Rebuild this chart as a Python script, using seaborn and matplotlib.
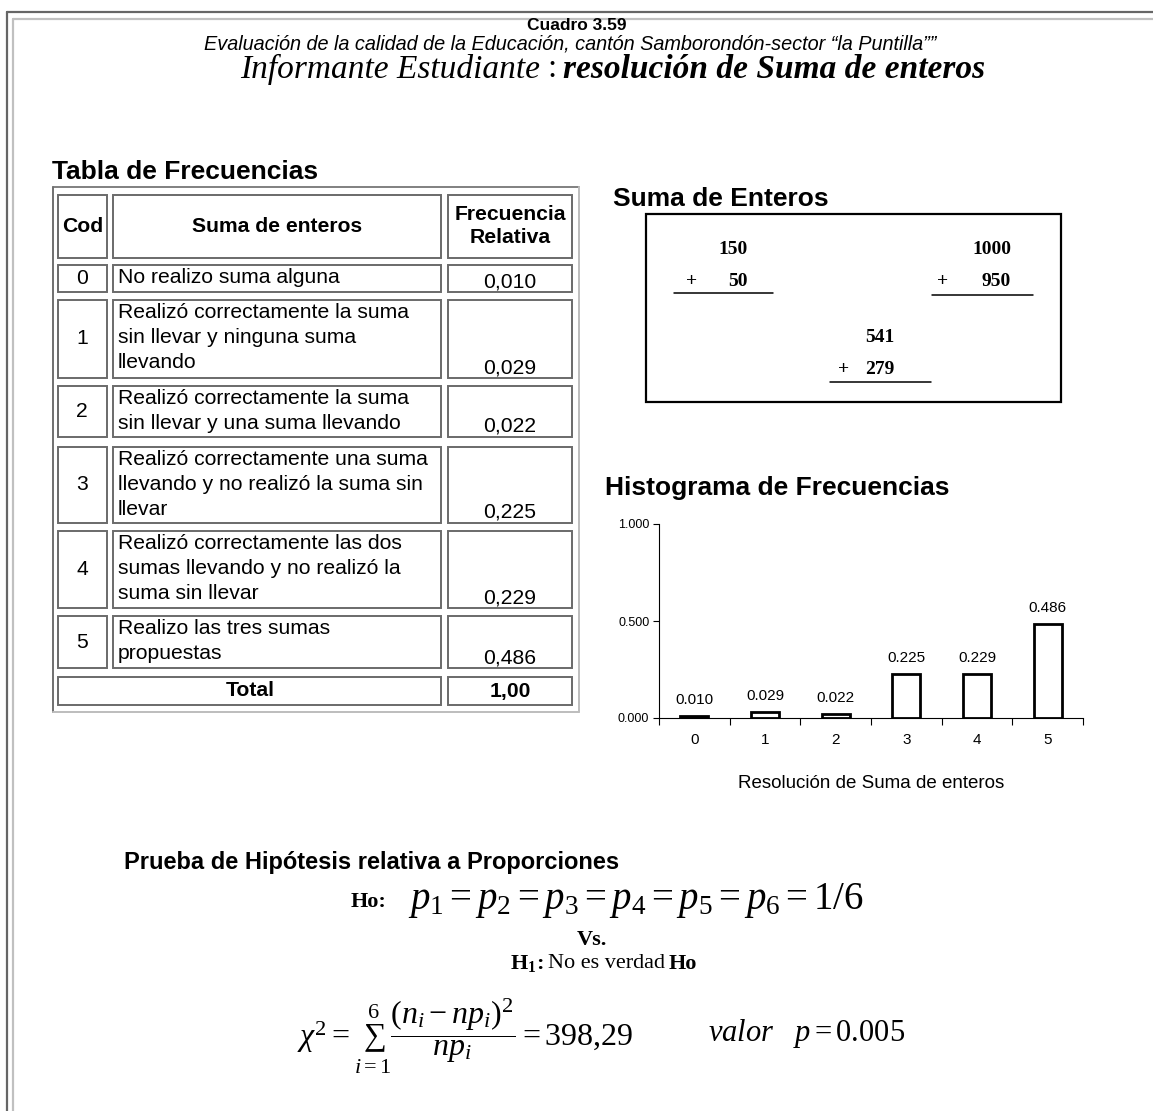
import numpy as np
import matplotlib
matplotlib.use('Agg')

import matplotlib.pyplot as plt
import seaborn as sns
from matplotlib.patches import Rectangle
from matplotlib.ticker import FormatStrFormatter, FixedLocator

W, H = 1153, 1111

# ================= DATA =================

codigos = [0, 1, 2, 3, 4, 5]

descripciones = [
    'No realizo suma alguna',
    'Realizó correctamente la suma\nsin llevar y ninguna suma\nllevando',
    'Realizó correctamente la suma\nsin llevar y una suma llevando',
    'Realizó correctamente una suma\nllevando y no realizó la suma sin\nllevar',
    'Realizó correctamente las dos\nsumas llevando y no realizó la\nsuma sin llevar',
    'Realizo las tres sumas\npropuestas',
]

frecuencias = [0.010, 0.029, 0.022, 0.225, 0.229, 0.486]

total = 1.00

encabezados = ['Cod', 'Suma de enteros', 'Frecuencia\nRelativa']

sumandos_a = ['150', '1000', '541']
sumandos_b = ['50', '950', '279']

chi2 = '398,29'
valor_p = '0.005'

# ================= STYLE =================

sns.set_theme(style='white')
plt.rcParams['font.family'] = ['Liberation Sans', 'DejaVu Sans']
plt.rcParams['text.color'] = 'black'
plt.rcParams['axes.labelcolor'] = 'black'
plt.rcParams['xtick.color'] = 'black'
plt.rcParams['ytick.color'] = 'black'
plt.rcParams['mathtext.fontset'] = 'custom'
plt.rcParams['mathtext.rm'] = 'Liberation Serif'
plt.rcParams['mathtext.it'] = 'Liberation Serif:italic'
plt.rcParams['mathtext.bf'] = 'Liberation Serif:bold'

SERIF = ['Liberation Serif', 'DejaVu Serif']

fig = plt.figure(figsize=(W / 100, H / 100), dpi=100)

# page in pixel coords
page = fig.add_axes([0, 0, 1, 1])
page.set_xlim(0, W)
page.set_ylim(H, 0)
page.axis('off')


def fin_x(t):
    # right edge of a text, in page coords
    fig.canvas.draw()
    bb = t.get_window_extent()
    return page.transData.inverted().transform((bb.x1, bb.y0))[0]


# page border
page.plot([7, W], [12, 12], color='#666666', lw=1.6)
page.plot([7, 7], [12, H], color='#666666', lw=1.6)
page.plot([13, W], [19, 19], color='#c0c0c0', lw=1.6)
page.plot([13, 13], [19, H], color='#c0c0c0', lw=1.6)

# ================= TITLES =================

page.text(577, 26, 'Cuadro 3.59', ha='center', va='center',
          fontsize=12.5, fontweight='bold')
page.text(570, 44, 'Evaluación de la calidad de la Educación, cantón '
          'Samborondón-sector “la Puntilla””',
          ha='center', va='center', fontsize=14.3, fontstyle='italic')
t = page.text(240, 69, 'Informante Estudiante', ha='left', va='center',
              fontsize=24, fontstyle='italic', family=SERIF)
t = page.text(fin_x(t) + 7, 69, ':', ha='left', va='center',
              fontsize=24, family=SERIF)
page.text(fin_x(t) + 7, 69, 'resolución de Suma de enteros', ha='left',
          va='center', fontsize=24, fontstyle='italic', fontweight='bold',
          family=SERIF)

# ================= TABLE =================

page.text(52, 172, 'Tabla de Frecuencias', ha='left', va='center',
          fontsize=19, fontweight='bold')


def cell(x0, y0, x1, y1):
    page.add_patch(Rectangle((x0, y0), x1 - x0, y1 - y0, fill=False,
                             edgecolor='#6a6a6a', lw=1.4))


# outer border
page.plot([53, 579], [187, 187], color='#808080', lw=1.4)
page.plot([53, 53], [187, 712], color='#707070', lw=1.4)
page.plot([53, 579], [712, 712], color='#bdbdbd', lw=1.4)
page.plot([579, 579], [187, 712], color='#bdbdbd', lw=1.4)

cols = [(58, 107), (113, 441), (448, 572)]
filas = [(265, 292), (300, 378), (386, 437), (447, 523), (531, 608), (616, 668)]
FS = 15.2

# header
for (x0, x1), txt in zip(cols, encabezados):
    cell(x0, 195, x1, 258)
    page.text((x0 + x1) / 2, 226, txt, ha='center', va='center',
              fontsize=FS, fontweight='bold', linespacing=1.3)

for (y0, y1), cod, desc, f in zip(filas, codigos, descripciones, frecuencias):
    for x0, x1 in cols:
        cell(x0, y0, x1, y1)
    page.text(82, (y0 + y1) / 2, str(cod), ha='center', va='center', fontsize=FS)
    page.text(118, y0 + 3, desc, ha='left', va='top', fontsize=FS,
              linespacing=1.4)
    page.text(510, y1 - 1, f'{f:.3f}'.replace('.', ','), ha='center',
              va='bottom', fontsize=FS)

cell(58, 677, 441, 705)
cell(448, 677, 572, 705)
page.text(250, 691, 'Total', ha='center', va='center', fontsize=FS,
          fontweight='bold')
page.text(510, 691, f'{total:.2f}'.replace('.', ','), ha='center',
          va='center', fontsize=FS, fontweight='bold')

# ================= SUMAS =================

page.text(613, 199, 'Suma de Enteros', ha='left', va='center',
          fontsize=19, fontweight='bold')
page.add_patch(Rectangle((646, 214), 1061 - 646, 402 - 214, fill=False,
                         edgecolor='black', lw=1.6))

pos_sumas = [(748, 250, 281, 686, 674, 773, 293),
             (1011, 250, 281, 937, 932, 1033, 295),
             (894, 338, 369, 838, 830, 931, 382)]
for a, b, (xr, ya, yb, xp, xl0, xl1, yl) in zip(sumandos_a, sumandos_b, pos_sumas):
    page.text(xr, ya, a, ha='right', va='center', fontsize=14,
              fontweight='bold', family=SERIF)
    page.text(xr, yb, b, ha='right', va='center', fontsize=14,
              fontweight='bold', family=SERIF)
    page.text(xp, yb, '+', ha='left', va='center', fontsize=14,
              fontweight='bold', family=SERIF)
    page.plot([xl0, xl1], [yl, yl], color='black', lw=1.1)

# ================= HISTOGRAM =================

page.text(605, 488, 'Histograma de Frecuencias', ha='left', va='center',
          fontsize=19, fontweight='bold')

ax = fig.add_axes([659 / W, 1 - 718 / H, (1083 - 659) / W, (718 - 524) / H])
ax.patch.set_alpha(0)

sns.barplot(x=codigos, y=frecuencias, color='white', edgecolor='black',
            linewidth=2, width=0.4, saturation=1, ax=ax)

ax.set_xlim(-0.5, 5.5)
ax.set_ylim(0, 1)
ax.set_yticks([0, 0.5, 1.0])
ax.yaxis.set_major_formatter(FormatStrFormatter('%.3f'))
ax.tick_params(axis='y', labelsize=9, length=4, width=0.8, direction='out',
               left=True, pad=3)
ax.tick_params(axis='x', which='major', labelsize=11, length=0, pad=11)
ax.xaxis.set_minor_locator(FixedLocator(np.arange(-0.5, 6, 1)))
ax.tick_params(axis='x', which='minor', length=5, width=0.8,
               direction='out', bottom=True)
for s in ['top', 'right']:
    ax.spines[s].set_visible(False)
for s in ['left', 'bottom']:
    ax.spines[s].set_color('black')
    ax.spines[s].set_linewidth(0.8)

ax.bar_label(ax.containers[0], fmt='%.3f', padding=6.5, fontsize=11)

ax.set_xlabel('Resolución de Suma de enteros', fontsize=13.5)
ax.xaxis.set_label_coords(0.5, -(783 - 718) / (718 - 524))
ax.xaxis.label.set_va('center')

# ================= HYPOTHESIS TEST =================

page.text(124, 862, 'Prueba de Hipótesis relativa a Proporciones',
          ha='left', va='center', fontsize=17, fontweight='bold')

page.text(351, 902, 'Ho:', ha='left', va='center', fontsize=16,
          fontweight='bold', family=SERIF)
page.text(408, 900, r'$p_1 = p_2 = p_3 = p_4 = p_5 = p_6 = 1/6$',
          ha='left', va='center', fontsize=28)
page.text(592, 940, 'Vs.', ha='center', va='center', fontsize=16,
          fontweight='bold', family=SERIF)

t = page.text(510, 964, r'$\mathbf{H_1}$', ha='left', va='center',
              fontsize=16, family=SERIF)
t = page.text(fin_x(t), 964, ':', ha='left', va='center', fontsize=16,
              fontweight='bold', family=SERIF)
t = page.text(fin_x(t) + 4, 964, 'No es verdad', ha='left', va='center',
              fontsize=16, family=SERIF)
page.text(fin_x(t) + 4, 964, 'Ho', ha='left', va='center', fontsize=16,
          fontweight='bold', family=SERIF)

page.text(297, 1036,
          r'$\chi^2 = \sum_{i=1}^{6}\dfrac{(n_i - np_i)^2}{np_i} = '
          + chi2.replace(',', '{,}') + '$',
          ha='left', va='center', fontsize=23)
page.text(708, 1033, r'$valor\quad p = ' + valor_p + '$', ha='left',
          va='center', fontsize=22)

fig.savefig('out.png', dpi=100)
